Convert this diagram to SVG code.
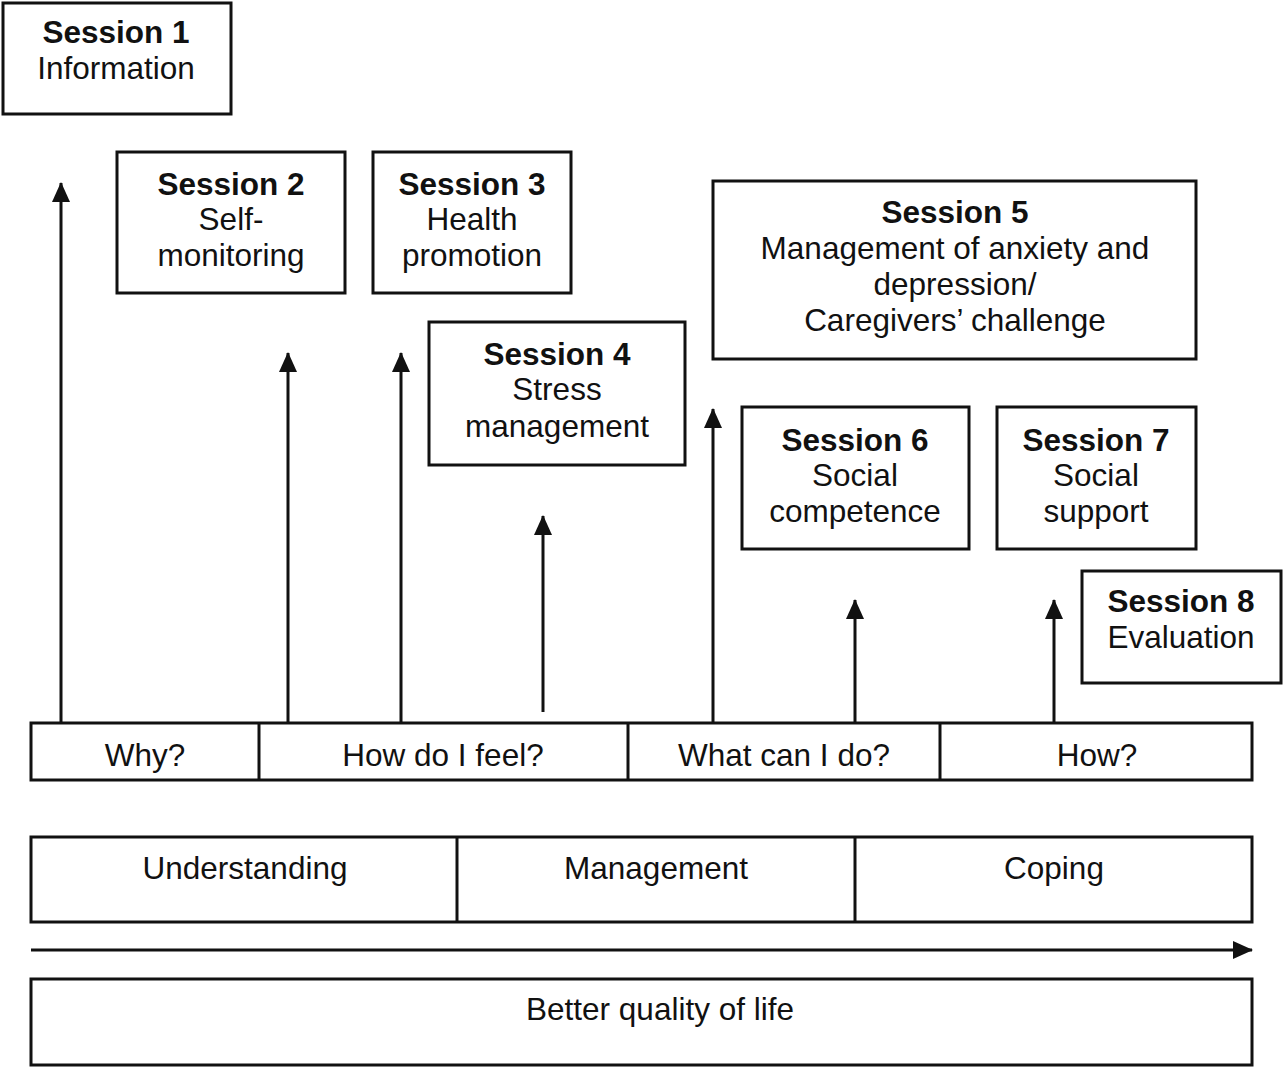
<svg xmlns="http://www.w3.org/2000/svg" width="1285" height="1071" viewBox="0 0 1285 1071">
<defs>
<style>
.box{fill:#fff;stroke:#111;stroke-width:3}
.t{font-family:"Liberation Sans",Arial,sans-serif;font-size:31.5px;fill:#111;text-anchor:middle}
.b{font-weight:bold}
.c{stroke:#111;stroke-width:3;fill:none}
</style>
<marker id="a" viewBox="0 0 20 18" refX="19" refY="9" markerWidth="20" markerHeight="18" markerUnits="userSpaceOnUse" orient="auto">
<path d="M0,0 L20,9 L0,18 z" fill="#111"/>
</marker>
</defs>
<rect width="1285" height="1071" fill="#fff"/>
<g id="connectors">
<line class="c" x1="61" y1="723" x2="61" y2="183" marker-end="url(#a)"/>
<line class="c" x1="288" y1="723" x2="288" y2="353" marker-end="url(#a)"/>
<line class="c" x1="401" y1="723" x2="401" y2="353" marker-end="url(#a)"/>
<line class="c" x1="543" y1="712" x2="543" y2="516" marker-end="url(#a)"/>
<line class="c" x1="713" y1="723" x2="713" y2="409" marker-end="url(#a)"/>
<line class="c" x1="855" y1="723" x2="855" y2="600" marker-end="url(#a)"/>
<line class="c" x1="1054" y1="723" x2="1054" y2="600" marker-end="url(#a)"/>
<line class="c" x1="31" y1="950" x2="1252" y2="950" marker-end="url(#a)"/>
</g>
<g id="s1"><rect class="box" x="3" y="3" width="228" height="111"/><text class="t b" x="116" y="43">Session 1</text><text class="t" x="116" y="79">Information</text></g>
<g id="s2"><rect class="box" x="117" y="152" width="228" height="141"/><text class="t b" x="231" y="195">Session 2</text><text class="t" x="231" y="230">Self-</text><text class="t" x="231" y="266">monitoring</text></g>
<g id="s3"><rect class="box" x="373" y="152" width="198" height="141"/><text class="t b" x="472" y="195">Session 3</text><text class="t" x="472" y="230">Health</text><text class="t" x="472" y="266">promotion</text></g>
<g id="s4"><rect class="box" x="429" y="322" width="256" height="143"/><text class="t b" x="557" y="365">Session 4</text><text class="t" x="557" y="400">Stress</text><text class="t" x="557" y="437">management</text></g>
<g id="s5"><rect class="box" x="713" y="181" width="483" height="178"/><text class="t b" x="955" y="223">Session 5</text><text class="t" x="955" y="259">Management of anxiety and</text><text class="t" x="955" y="295">depression/</text><text class="t" x="955" y="331">Caregivers’ challenge</text></g>
<g id="s6"><rect class="box" x="742" y="407" width="227" height="142"/><text class="t b" x="855" y="451">Session 6</text><text class="t" x="855" y="486">Social</text><text class="t" x="855" y="522">competence</text></g>
<g id="s7"><rect class="box" x="997" y="407" width="199" height="142"/><text class="t b" x="1096" y="451">Session 7</text><text class="t" x="1096" y="486">Social</text><text class="t" x="1096" y="522">support</text></g>
<g id="s8"><rect class="box" x="1082" y="571" width="199" height="112"/><text class="t b" x="1181" y="612">Session 8</text><text class="t" x="1181" y="648">Evaluation</text></g>
<g id="questions">
<rect class="box" x="31" y="723" width="1221" height="57"/>
<line class="c" x1="259" y1="723" x2="259" y2="780"/>
<line class="c" x1="628" y1="723" x2="628" y2="780"/>
<line class="c" x1="940" y1="723" x2="940" y2="780"/>
<text class="t" x="145" y="766">Why?</text>
<text class="t" x="443" y="766">How do I feel?</text>
<text class="t" x="784" y="766">What can I do?</text>
<text class="t" x="1097" y="766">How?</text>
</g>
<g id="phases">
<rect class="box" x="31" y="837" width="1221" height="85"/>
<line class="c" x1="457" y1="837" x2="457" y2="922"/>
<line class="c" x1="855" y1="837" x2="855" y2="922"/>
<text class="t" x="245" y="879">Understanding</text>
<text class="t" x="656" y="879">Management</text>
<text class="t" x="1054" y="879">Coping</text>
</g>
<g id="outcome"><rect class="box" x="31" y="979" width="1221" height="86"/><text class="t" x="660" y="1020">Better quality of life</text></g>
</svg>
